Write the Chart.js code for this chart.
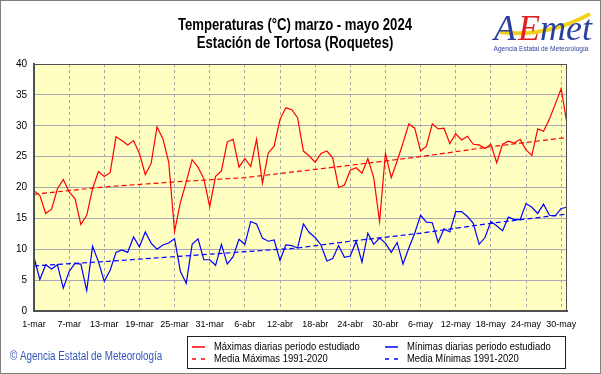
<!DOCTYPE html>
<html>
<head>
<meta charset="utf-8">
<script src="https://cdn.jsdelivr.net/npm/chart.js@4.4.1/dist/chart.umd.min.js"></script>
<style>
  html, body { margin: 0; padding: 0; background: #fff; }
  #wrap { width: 601px; height: 374px; }
</style>
</head>
<body>
<div id="wrap"><canvas id="tempChart"></canvas></div>
<script>
// temperaturas diarias 1-mar .. 31-may 2024 (indice 0 = 1 de marzo)
const maxTemps = [
    19.5, 18.7, 15.8, 16.5, 19.8, 21.3, 19.3, 18.2, 14.0, 15.5,
    19.8, 22.6, 21.8, 22.4, 28.2, 27.6, 26.9, 27.6, 25.5, 22.1,
    23.9, 29.8, 27.9, 24.1, 12.9, 17.6, 20.9, 24.5, 23.3, 21.4,
    16.9, 21.8, 22.7, 27.4, 27.8, 23.3, 24.7, 23.4, 27.8, 20.7,
    25.6, 26.7, 31.0, 32.9, 32.6, 31.3, 25.9, 25.1, 24.1, 25.5,
    25.9, 24.8, 20.0, 20.4, 22.8, 23.2, 22.3, 24.7, 21.6, 14.5,
    25.5, 21.6, 24.3, 27.2, 30.3, 29.6, 25.9, 26.7, 30.3, 29.5,
    29.6, 27.1, 28.7, 27.7, 28.3, 27.0, 26.9, 26.3, 27.0, 24.0,
    27.0, 27.5, 27.2, 27.8, 26.1, 25.2, 29.5, 29.1, 31.1, 33.5,
    36.0, 30.3
];
const minTemps = [
    8.7, 5.1, 7.5, 6.8, 7.5, 3.7, 6.4, 7.7, 7.6, 3.3,
    10.5, 8.0, 4.8, 6.6, 9.5, 9.9, 9.5, 12.0, 10.4, 12.8,
    11.0, 10.0, 10.7, 11.0, 11.7, 6.4, 4.5, 10.8, 11.7, 8.3,
    8.3, 7.4, 10.8, 7.6, 8.8, 11.6, 10.8, 14.5, 14.1, 11.8,
    11.3, 11.5, 8.2, 10.7, 10.6, 10.2, 14.1, 12.7, 11.9, 10.7,
    8.1, 8.5, 10.6, 8.7, 8.9, 11.3, 7.9, 12.6, 10.8, 11.8,
    11.0, 9.5, 11.1, 7.6, 10.2, 12.6, 15.5, 14.4, 14.3, 11.1,
    13.3, 12.8, 16.1, 16.1, 15.3, 14.2, 10.8, 11.9, 14.5, 13.8,
    13.0, 15.2, 14.8, 14.8, 17.4, 16.8, 15.8, 17.3, 15.5, 15.4,
    16.6, 16.8
];

const meanDays = [0, 12, 24, 36, 45, 54, 66, 78, 91];
const meanMax = [18.9, 20.1, 20.9, 21.6, 22.6, 23.6, 25.0, 26.6, 28.1];
const meanMin = [7.3, 8.0, 8.8, 9.6, 10.2, 11.3, 12.6, 14.2, 15.7];

// una etiqueta cada 6 dias
const tickLabels = ['1-mar', '7-mar', '13-mar', '19-mar', '25-mar', '31-mar',
    '6-abr', '12-abr', '18-abr', '24-abr', '30-abr',
    '6-may', '12-may', '18-may', '24-may', '30-may'];

const FONT = '"Liberation Sans", Arial, sans-serif';

function toPoints(values) {
    return values.map((v, i) => ({x: i, y: v}));
}

function toMeanPoints(values) {
    return values.map((v, i) => ({x: meanDays[i], y: v}));
}

// el original usa Arial Narrow: se estrecha el texto a mano
function narrowText(ctx, text, x, y) {
    ctx.save();
    ctx.translate(x, y);
    ctx.scale(0.82, 1);
    ctx.fillText(text, 0, 0);
    ctx.restore();
}

// fondo, titulo, logo, leyenda y marcos
const decor = {
    id: 'decor',
    beforeDraw(chart) {
        const ctx = chart.ctx;
        const a = chart.chartArea;
        ctx.save();
        ctx.fillStyle = '#ffffff';
        ctx.fillRect(0, 0, chart.width, chart.height);
        ctx.fillStyle = '#ffffc2';
        ctx.fillRect(a.left, a.top, a.right - a.left, a.bottom - a.top);
        ctx.restore();
    },
    afterDraw(chart) {
        const ctx = chart.ctx;
        const a = chart.chartArea;
        ctx.save();

        // borde del area del grafico
        ctx.strokeStyle = '#505050';
        ctx.lineWidth = 1;
        ctx.strokeRect(a.left + 0.5, a.top + 0.5, a.right - a.left - 1, a.bottom - a.top - 1);

        // titulo
        ctx.fillStyle = '#000';
        ctx.textAlign = 'center';
        ctx.textBaseline = 'middle';
        ctx.font = 'bold 16px ' + FONT;
        narrowText(ctx, 'Temperaturas (°C) marzo - mayo 2024', 295, 26);
        narrowText(ctx, 'Estación de Tortosa (Roquetes)', 295, 44);

        // logo
        ctx.strokeStyle = '#f2d21a';
        ctx.lineWidth = 4;
        ctx.beginPath();
        ctx.moveTo(500, 32);
        ctx.quadraticCurveTo(545, 38, 590, 14);
        ctx.stroke();
        ctx.textAlign = 'left';
        ctx.textBaseline = 'alphabetic';
        ctx.font = 'italic 36px "Liberation Serif", serif';
        ctx.fillStyle = '#2b3f9e';
        ctx.fillText('A', 494, 40);
        ctx.fillStyle = '#e02020';
        ctx.fillText('E', 518, 40);
        ctx.fillStyle = '#2b3f9e';
        ctx.fillText('met', 540, 40);
        ctx.font = '8px ' + FONT;
        ctx.textAlign = 'center';
        narrowText(ctx, 'Agencia Estatal de Meteorología', 541, 51);

        // copyright
        ctx.textAlign = 'left';
        ctx.textBaseline = 'middle';
        ctx.font = '12px ' + FONT;
        ctx.fillStyle = '#3355bb';
        narrowText(ctx, '© Agencia Estatal de Meteorología', 10, 357);

        // leyenda
        ctx.strokeStyle = '#202020';
        ctx.lineWidth = 1;
        ctx.strokeRect(187.5, 336.5, 378, 32);
        ctx.font = '11.5px ' + FONT;
        const cols = [192, 385];
        const rows = [347, 359];
        chart.data.datasets.forEach((ds, i) => {
            const x = cols[i % 2];
            const y = rows[Math.floor(i / 2)];
            ctx.strokeStyle = ds.borderColor;
            ctx.lineWidth = 1.5;
            ctx.setLineDash(ds.borderDash ? [4, 5] : []);
            ctx.beginPath();
            ctx.moveTo(x, y);
            ctx.lineTo(x + 13, y);
            ctx.stroke();
            ctx.setLineDash([]);
            ctx.fillStyle = '#000';
            narrowText(ctx, ds.label, x + 22, y);
        });

        // marco exterior
        ctx.strokeStyle = '#808080';
        ctx.lineWidth = 1;
        ctx.strokeRect(0.5, 0.5, chart.width - 1, chart.height - 1);
        ctx.restore();
    }
};

new Chart(document.getElementById('tempChart'), {
    type: 'line',
    data: {
        datasets: [{
            label: 'Máximas diarias periodo estudiado',
            data: toPoints(maxTemps),
            borderColor: '#ff0000',
            borderWidth: 1.2
        }, {
            label: 'Mínimas diarias periodo estudiado',
            data: toPoints(minTemps),
            borderColor: '#0000ff',
            borderWidth: 1.2
        }, {
            label: 'Media Máximas 1991-2020',
            data: toMeanPoints(meanMax),
            borderColor: '#ff0000',
            borderWidth: 1.2,
            borderDash: [5, 3]
        }, {
            label: 'Media Mínimas 1991-2020',
            data: toMeanPoints(meanMin),
            borderColor: '#0000ff',
            borderWidth: 1.2,
            borderDash: [5, 3]
        }]
    },
    options: {
        responsive: true,
        maintainAspectRatio: false,
        animation: false,
        devicePixelRatio: 1,
        layout: {padding: {top: 64, right: 34, bottom: 38, left: 0}},
        elements: {point: {radius: 0}, line: {tension: 0}},
        plugins: {
            legend: {display: false},
            tooltip: {enabled: false}
        },
        scales: {
            x: {
                type: 'linear',
                min: 0,
                max: 91,
                afterFit(scale) { scale.height = 25; },
                grid: {color: '#a8a8a8', drawTicks: false},
                border: {color: '#505050', width: 2, dash: [3, 3]},
                ticks: {
                    stepSize: 6,
                    includeBounds: false,
                    autoSkip: false,
                    maxRotation: 0,
                    padding: 8,
                    color: '#000',
                    font: {family: FONT, size: 9},
                    callback: (v) => tickLabels[v / 6]
                }
            },
            y: {
                min: 0,
                max: 40,
                afterFit(scale) { scale.width = 34; },
                grid: {color: '#a9a9b6', drawTicks: false},
                border: {color: '#505050', width: 2},
                ticks: {
                    stepSize: 5,
                    padding: 7,
                    color: '#000',
                    font: {family: FONT, size: 10}
                }
            }
        }
    },
    plugins: [decor]
});
</script>
</body>
</html>
